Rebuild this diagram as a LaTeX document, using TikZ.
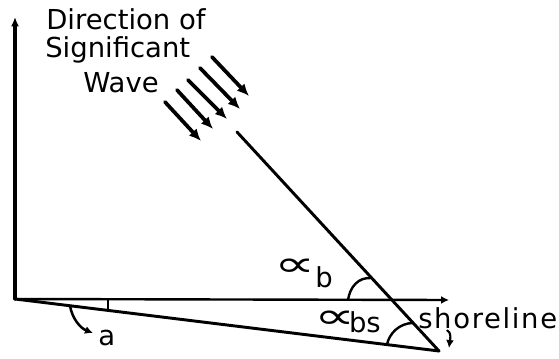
\documentclass[tikz,border=0pt]{standalone}
\usepackage{fontspec}
\setmainfont{DejaVu Sans}
\usetikzlibrary{arrows.meta}
\tikzstyle{line} = [line width=2.2pt, line cap=round]
\tikzstyle{arrow} = [line width=2.8pt, line cap=round, -{Latex[length=9pt,width=8pt]}]
\tikzstyle{smallarrow} = [line width=1.6pt, -{Latex[length=6pt,width=6pt]}]
\tikzstyle{label} = [inner sep=0pt, anchor=base west, font=\fontsize{20.6}{24}\selectfont]
\newcommand{\bigalpha}[1]{\raisebox{#1}{\raisebox{\dimexpr(\depth-\height)/2\relax}{\fontsize{36}{36}\selectfont\scalebox{1.2}[0.75]{∝}}}}

\begin{document}
\begin{tikzpicture}[x=0.75pt, y=-0.75pt]
        % Bounding box
        \useasboundingbox (0,0) rectangle (559,359);

        % Points
        \coordinate (o)    at (15,299);
        \coordinate (ytop) at (15,17);
        \coordinate (xend) at (449,300);
        \coordinate (s)    at (439,351);
        \coordinate (w)    at (237,132);

        % Axes
        \draw[line, line width=2.4pt, -{Latex[length=7pt,width=6pt]}] (o) -- (ytop);
        \draw[line, line width=1.8pt, -{Latex[length=6pt,width=6pt]}] (o) -- (xend);

        % Shoreline and wave line
        \draw[line] (o) -- (s);
        \draw[line] (w) -- (s);

        % Direction of significant wave
        \coordinate (w1s) at (212,57);  \coordinate (w1e) at (249,96);
        \coordinate (w2s) at (200,68);  \coordinate (w2e) at (240,109);
        \coordinate (w3s) at (188,80);  \coordinate (w3e) at (227,119);
        \coordinate (w4s) at (177,90);  \coordinate (w4e) at (213,129);
        \coordinate (w5s) at (165,102); \coordinate (w5e) at (201,141);
        \draw[arrow] (w1s) -- (w1e);
        \draw[arrow] (w2s) -- (w2e);
        \draw[arrow] (w3s) -- (w3e);
        \draw[arrow] (w4s) -- (w4e);
        \draw[arrow] (w5s) -- (w5e);

        % Angle marks
        \coordinate (ab1)  at (348,300);
        \coordinate (ab2)  at (371.7,278);
        \coordinate (abs1) at (387,344.6);
        \coordinate (abs2) at (413.2,323);
        \coordinate (a1)   at (108,299.8);
        \coordinate (a2)   at (108,310.4);
        \draw[line, line width=1.8pt] (ab1) .. controls (350,287) and (358,277) .. (ab2);
        \draw[line, line width=1.8pt] (abs1) .. controls (389,334) and (399,323) .. (abs2);
        \draw[line, line width=1.8pt] (a1) -- (a2);

        % Pointers
        \coordinate (pa1) at (70,305.7);
        \coordinate (pa2) at (93,333);
        \draw[smallarrow, line width=1.9pt] (pa1) .. controls (72,318) and (80,328) .. (pa2);
        \coordinate (ps1) at (447,330);
        \coordinate (ps2) at (449,348);
        \draw[smallarrow] (ps1) .. controls (452,333) and (450,340) .. (ps2);

        % Labels
        \node[label] (dir)   at (46,30)  {Direction of};
        \node[label] (sig)   at (45,58)  {Significant};
        \node[label] (wave)  at (83,93)  {Wave};
        \node[label, font=\fontsize{20.6}{24}\addfontfeatures{LetterSpace=6}] (shore) at (418,328) {shoreline};
        \node[label] (alab)  at (98,345) {a};
        \node[label] (alphab)  at (274,287) {\bigalpha{14.25pt}\hspace{0pt}b};
        \node[label] (alphabs) at (314,332) {\bigalpha{9pt}\hspace{-4.8pt}bs};

    \end{tikzpicture}
\end{document}
